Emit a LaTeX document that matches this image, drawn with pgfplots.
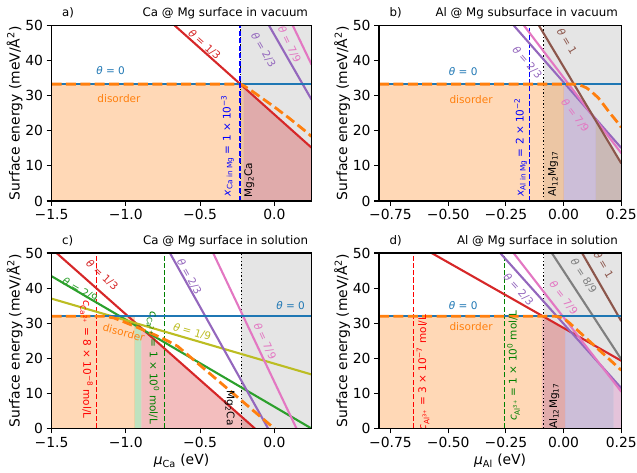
\documentclass[border=0pt]{standalone}
\usepackage{fontspec}
\setmainfont{DejaVu Sans}
\usepackage{pgfplots}
\pgfplotsset{compat=1.18}
\definecolor{tblue}{HTML}{1F77B4}
\definecolor{torange}{HTML}{FF7F0E}
\definecolor{tgreen}{HTML}{2CA02C}
\definecolor{tred}{HTML}{D62728}
\definecolor{tpurple}{HTML}{9467BD}
\definecolor{tbrown}{HTML}{8C564B}
\definecolor{tpink}{HTML}{E377C2}
\definecolor{tgray}{HTML}{7F7F7F}
\definecolor{tolive}{HTML}{BCBD22}
\definecolor{mgreen}{HTML}{008000}
\definecolor{mblue}{HTML}{0000FF}
\definecolor{mred}{HTML}{FF0000}
\newcommand{\tk}{\fontsize{13.9}{16}\selectfont}
\newcommand{\an}{\fontsize{10.5}{12}\selectfont}
\newcommand{\ttl}{\fontsize{11.8}{14}\selectfont}
\newcommand{\thet}{{\itshape θ}}
\pgfplotsset{
  panel/.style={
    scale only axis, height=175.5pt, ymin=0, ymax=50,
    ytick={0,10,20,30,40,50}, yticklabels={0,10,20,30,40,50},
    tick align=outside, xtick pos=left, ytick pos=left,
    major tick length=4.9pt,
    tick style={black, line width=1.1pt},
    axis line style={line width=1.1pt},
    tick label style={font=\tk},
    label style={font=\tk},
    ylabel={Surface energy (meV/Å\textsuperscript{2})},
    ylabel style={yshift=-4pt},
    axis on top, anchor=south west,
  },
  pa/.style={panel, width=260pt, xmin=-1.5, xmax=0.25,
    xtick={-1.5,-1,-0.5,0}, xticklabels={−1.5,−1.0,−0.5,0.0}},
  pb/.style={panel, width=242.3pt, xmin=-0.8, xmax=0.25,
    xtick={-0.75,-0.5,-0.25,0,0.25}, xticklabels={−0.75,−0.50,−0.25,0.00,0.25}},
  ln/.style={line width=2.1pt},
  od/.style={torange, line width=2.8pt, dash pattern=on 10pt off 4.4pt},
  fl/.style={draw=none, fill opacity=0.3},
  gr/.style={draw=none, fill=gray!20},
  vd/.style={line width=1.1pt, dash pattern=on 5.1pt off 2.2pt},
  kd/.style={black, line width=1.1pt, dash pattern=on 1.4pt off 2.3pt},
}
\begin{document}
\begin{tikzpicture}
\useasboundingbox (0pt,0pt) rectangle (637pt,472pt);
% ---------------- a
\begin{axis}[pa, name=a, at={(51.5pt,271pt)}]
\addplot[gr] coordinates {(-0.225,50) (0.25,50)} \closedcycle;
\addplot[fl, fill=torange] coordinates {(-1.5,33.3) (-0.205,33.3)} \closedcycle;
\addplot[fl, fill=tred] coordinates {(-0.205,32.4) (0.25,15.2)} \closedcycle;
\addplot[kd] coordinates {(-0.225,0) (-0.225,50)};
\addplot[ln, tred] coordinates {(-0.671,50) (0.25,15.2)};
\addplot[ln, tpurple] coordinates {(-0.036,50) (0.25,28.9)};
\addplot[ln, tpink] coordinates {(0.124,50) (0.25,38.9)};
\addplot[ln, tblue] coordinates {(-1.5,33.3) (0.25,33.3)};
\addplot[od] coordinates {(-1.5,33.3) (-0.229,33.3) (-0.2,32.7) (-0.15,31.3) (-0.1,29.8) (-0.05,28.3) (0.0,26.8) (0.05,25.2) (0.1,23.6) (0.15,21.9) (0.2,20.2) (0.25,18.4)};
\addplot[mblue, line width=1.8pt, dash pattern=on 5pt off 2.5pt] coordinates {(-0.233,0) (-0.233,50)};
\node[tred, font=\an, rotate=-42] at (axis cs:-0.47,44.5) {\thet\ = 1/3};
\node[tpurple, font=\an, rotate=-60] at (axis cs:-0.074,43) {\thet\ = 2/3};
\node[tpink, font=\an, rotate=-64] at (axis cs:0.101,44.6) {\thet\ = 7/9};
\node[tblue, font=\an] at (axis cs:-1.102,37.1) {\thet\ = 0};
\node[torange, font=\an] at (axis cs:-1.046,29.1) {disorder};
\node[mblue, font=\an, rotate=90] at (axis cs:-0.315,15.8) {{\itshape x}\textsubscript{Ca in Mg} = 1 × 10\textsuperscript{−3}};
\node[black, font=\an, rotate=90] at (axis cs:-0.169,6) {Mg\textsubscript{2}Ca};
\end{axis}
\node[font=\ttl, anchor=base east] at ([yshift=9pt]a.north east) {Ca @ Mg surface in vacuum};
\node[font=\ttl, anchor=base west] at ([xshift=7pt,yshift=9pt]a.north west) {a)};
% ---------------- b
\begin{axis}[pb, name=b, at={(379pt,271pt)}]
\addplot[gr] coordinates {(-0.087,50) (0.25,50)} \closedcycle;
\addplot[fl, fill=torange] coordinates {(-0.8,33.3) (0.0,33.3)} \closedcycle;
\addplot[fl, fill=tpurple] coordinates {(0.0,33.3) (0.14,23.3)} \closedcycle;
\addplot[fl, fill=tbrown] coordinates {(0.14,22.8) (0.25,10.7)} \closedcycle;
\addplot[kd] coordinates {(-0.087,0) (-0.087,50)};
\addplot[mblue, line width=1.1pt, dash pattern=on 5.1pt off 2.2pt] coordinates {(-0.149,0) (-0.149,50)};
\addplot[ln, tpurple] coordinates {(-0.216,50) (0.25,15.1)};
\addplot[ln, tpink] coordinates {(-0.172,50) (0.25,13.6)};
\addplot[ln, tbrown] coordinates {(-0.107,50) (0.25,10.7)};
\addplot[ln, tblue] coordinates {(-0.8,33.3) (0.25,33.3)};
\addplot[od] coordinates {(-0.8,33.3) (0.04,33.3) (0.06,33.2) (0.08,32.8) (0.1,32.2) (0.12,31.2) (0.15,29.4) (0.175,27.3) (0.2,25.1) (0.225,23.1) (0.25,21)};
\node[tblue, font=\an] at (axis cs:-0.435,37) {\thet\ = 0};
\node[torange, font=\an] at (axis cs:-0.401,28.8) {disorder};
\node[tpurple, font=\an, rotate=-49] at (axis cs:-0.158,39.5) {\thet\ = 2/3};
\node[tpink, font=\an, rotate=-53] at (axis cs:0.05,24.3) {\thet\ = 7/9};
\node[tbrown, font=\an, rotate=-59] at (axis cs:0.015,45.5) {\thet\ = 1};
\node[mblue, font=\an, rotate=90] at (axis cs:-0.186,15.3) {{\itshape x}\textsubscript{Al in Mg} = 2 × 10\textsuperscript{−2}};
\node[black, font=\an, rotate=90] at (axis cs:-0.046,7.75) {Al\textsubscript{12}Mg\textsubscript{17}};
\end{axis}
\node[font=\ttl, anchor=base east] at ([yshift=9pt]b.north east) {Al @ Mg subsurface in vacuum};
\node[font=\ttl, anchor=base west] at ([xshift=7pt,yshift=9pt]b.north west) {b)};
% ---------------- c
\begin{axis}[pa, name=c, at={(51.5pt,43.5pt)}, xlabel={{\itshape μ}\textsubscript{Ca} (eV)}]
\addplot[gr] coordinates {(-0.223,50) (0.25,50)} \closedcycle;
\addplot[fl, fill=torange] coordinates {(-1.5,32) (-0.94,32)} \closedcycle;
\addplot[fl, fill=tgreen] coordinates {(-0.94,29.5) (-0.895,28.4)} \closedcycle;
\addplot[fl, fill=tred] coordinates {(-0.895,28.6) (-0.131,0)} \closedcycle;
\addplot[kd] coordinates {(-0.223,0) (-0.223,50)};
\addplot[vd, mred] coordinates {(-1.2,0) (-1.2,50)};
\addplot[vd, mgreen] coordinates {(-0.74,0) (-0.74,50)};
\addplot[ln, tred] coordinates {(-1.466,50) (-0.131,0)};
\addplot[ln, tgreen] coordinates {(-1.5,43.4) (0.25,0)};
\addplot[ln, tolive] coordinates {(-1.5,37.0) (0.25,15.4)};
\addplot[ln, tpurple] coordinates {(-0.703,50) (-0.042,0)};
\addplot[ln, tpink] coordinates {(-0.412,50) (0.149,0)};
\addplot[ln, tblue] coordinates {(-1.5,32) (0.25,32)};
\addplot[od] coordinates {(-1.5,32) (-1.15,32) (-1.08,31.5) (-1.02,30.5) (-0.95,29.3) (-0.9,28.4) (-0.8,26.6) (-0.72,25.0) (-0.65,23.4) (-0.6,21.6) (-0.5,18) (-0.4,14.4) (-0.3,10.8) (-0.2,7.2) (-0.1,3.6) (0.0,0) (0.05,-1.8)};
\node[tred, font=\an, rotate=-42] at (axis cs:-1.159,43.7) {\thet\ = 1/3};
\node[tgreen, font=\an, rotate=-30] at (axis cs:-1.309,39.4) {\thet\ = 2/9};
\node[tpurple, font=\an, rotate=-61] at (axis cs:-0.573,43.2) {\thet\ = 2/3};
\node[tblue, font=\an] at (axis cs:0.109,35) {\thet\ = 0};
\node[tolive, font=\an, rotate=-16] at (axis cs:-0.553,27.5) {\thet\ = 1/9};
\node[tpink, font=\an, rotate=-65] at (axis cs:-0.064,24.9) {\thet\ = 7/9};
\node[torange, font=\an, rotate=-15] at (axis cs:-1.013,27.3) {disorder};
\node[mred, font=\an, rotate=-90] at (axis cs:-1.264,19.7) {{\itshape c}\textsubscript{Ca\textsuperscript{2+}} = 8 × 10\textsuperscript{−8} mol/L};
\node[mgreen, font=\an, rotate=-90] at (axis cs:-0.816,17.3) {{\itshape c}\textsubscript{Ca\textsuperscript{2+}} = 1 × 10\textsuperscript{0} mol/L};
\node[black, font=\an, rotate=-90] at (axis cs:-0.3,5.8) {Mg\textsubscript{2}Ca};
\end{axis}
\node[font=\ttl, anchor=base east] at ([yshift=9pt]c.north east) {Ca @ Mg surface in solution};
\node[font=\ttl, anchor=base west] at ([xshift=7pt,yshift=9pt]c.north west) {c)};
% ---------------- d
\begin{axis}[pb, name=d, at={(379pt,43.5pt)}, xlabel={{\itshape μ}\textsubscript{Al} (eV)}]
\addplot[gr] coordinates {(-0.087,50) (0.25,50)} \closedcycle;
\addplot[fl, fill=torange] coordinates {(-0.8,32) (-0.094,32)} \closedcycle;
\addplot[fl, fill=tred] coordinates {(-0.094,32.1) (0.007,28.4)} \closedcycle;
\addplot[fl, fill=tpurple] coordinates {(0.007,29.3) (0.217,13.9)} \closedcycle;
\addplot[fl, fill=tpink] coordinates {(0.217,13.3) (0.25,10.5)} \closedcycle;
\addplot[kd] coordinates {(-0.087,0) (-0.087,50)};
\addplot[vd, mred] coordinates {(-0.65,0) (-0.65,50)};
\addplot[vd, mgreen] coordinates {(-0.258,0) (-0.258,50)};
\addplot[ln, tred] coordinates {(-0.572,50) (0.25,19.3)};
\addplot[ln, tpurple] coordinates {(-0.275,50) (0.25,11.5)};
\addplot[ln, tpink] coordinates {(-0.217,50) (0.25,10.5)};
\addplot[ln, tgray] coordinates {(-0.051,50) (0.25,19.7)};
\addplot[ln, tbrown] coordinates {(0.08,50) (0.25,30.6)};
\addplot[ln, tblue] coordinates {(-0.8,32) (0.25,32)};
\addplot[od] coordinates {(-0.8,32) (-0.04,32) (-0.02,31.8) (0.0,31.4) (0.025,30.1) (0.05,28.6) (0.1,25.6) (0.15,22.6) (0.2,19.6) (0.25,16.6)};
\node[tblue, font=\an] at (axis cs:-0.435,35) {\thet\ = 0};
\node[torange, font=\an] at (axis cs:-0.401,29) {disorder};
\node[tpurple, font=\an, rotate=-48] at (axis cs:-0.196,39.6) {\thet\ = 2/3};
\node[tpink, font=\an, rotate=-52] at (axis cs:0.0,37.2) {\thet\ = 7/9};
\node[tgray, font=\an, rotate=-57] at (axis cs:0.087,43.4) {\thet\ = 8/9};
\node[tbrown, font=\an, rotate=-60] at (axis cs:0.174,46.7) {\thet\ = 1};
\node[mred, font=\an, rotate=90] at (axis cs:-0.609,15.9) {{\itshape c}\textsubscript{Al\textsuperscript{3+}} = 3 × 10\textsuperscript{−7} mol/L};
\node[mgreen, font=\an, rotate=90] at (axis cs:-0.217,17.8) {{\itshape c}\textsubscript{Al\textsuperscript{3+}} = 1 × 10\textsuperscript{0} mol/L};
\node[black, font=\an, rotate=90] at (axis cs:-0.041,6.4) {Al\textsubscript{12}Mg\textsubscript{17}};
\end{axis}
\node[font=\ttl, anchor=base east] at ([yshift=9pt]d.north east) {Al @ Mg surface in solution};
\node[font=\ttl, anchor=base west] at ([xshift=7pt,yshift=9pt]d.north west) {d)};
\end{tikzpicture}
\end{document}
